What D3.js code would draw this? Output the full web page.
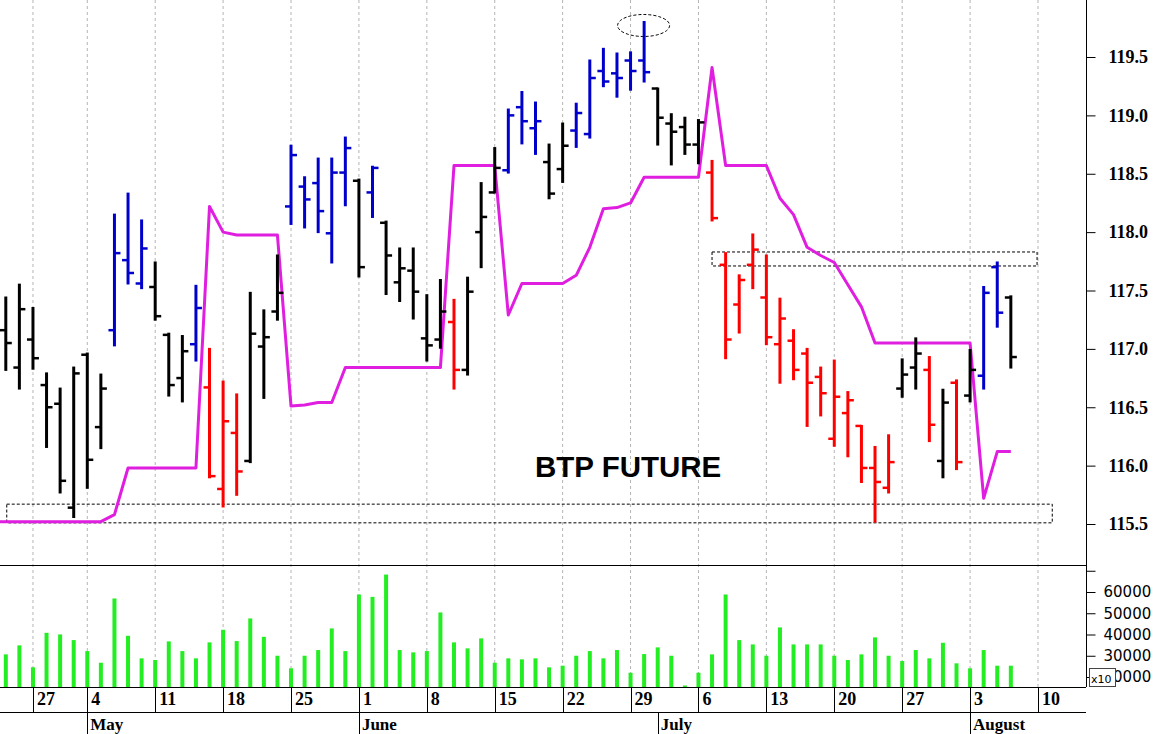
<!DOCTYPE html>
<html><head><meta charset="utf-8">
<script src="https://cdn.jsdelivr.net/npm/d3@7"></script>
<style>body{margin:0;background:#fff}svg{display:block}</style>
</head><body>
<svg id="c" width="1157" height="734"></svg>
<script>
// ---------- DATA ----------
const dates = [
 "2015-04-23","2015-04-24","2015-04-27","2015-04-28","2015-04-29","2015-04-30",
 "2015-05-04","2015-05-05","2015-05-06","2015-05-07","2015-05-08",
 "2015-05-11","2015-05-12","2015-05-13","2015-05-14","2015-05-15",
 "2015-05-18","2015-05-19","2015-05-20","2015-05-21","2015-05-22",
 "2015-05-25","2015-05-26","2015-05-27","2015-05-28","2015-05-29",
 "2015-06-01","2015-06-02","2015-06-03","2015-06-04","2015-06-05",
 "2015-06-08","2015-06-09","2015-06-10","2015-06-11","2015-06-12",
 "2015-06-15","2015-06-16","2015-06-17","2015-06-18","2015-06-19",
 "2015-06-22","2015-06-23","2015-06-24","2015-06-25","2015-06-26",
 "2015-06-29","2015-06-30","2015-07-01","2015-07-02","2015-07-03",
 "2015-07-06","2015-07-07","2015-07-08","2015-07-09","2015-07-10",
 "2015-07-13","2015-07-14","2015-07-15","2015-07-16","2015-07-17",
 "2015-07-20","2015-07-21","2015-07-22","2015-07-23","2015-07-24",
 "2015-07-27","2015-07-28","2015-07-29","2015-07-30","2015-07-31",
 "2015-08-03","2015-08-04","2015-08-05","2015-08-06","2015-08-07",
 "2015-08-10"
];
const open = [117.16,116.84,117.08,116.69,116.53,115.64,116.95,116.33,117.16,117.76,117.56,
 117.53,117.12,116.75,117.04,116.67,115.80,116.28,116.04,117.02,117.32,
 118.22,118.39,118.42,117.99,118.51,118.44,118.34,118.08,117.57,117.67,
 117.09,117.08,117.23,116.82,118.00,118.34,118.53,119.07,118.89,118.60,
 118.54,118.87,118.84,119.38,119.36,119.47,119.47,119.23,118.93,118.90,
 118.75,118.51,117.72,117.38,117.72,117.44,117.04,117.07,116.96,116.76,
 116.23,116.45,116.34,115.98,115.81,116.66,116.84,116.82,116.04,116.71,
 116.60,116.77,117.70,117.44];
const high = [117.44,117.55,117.35,116.79,116.66,116.84,116.96,116.78,118.15,118.33,118.10,
 117.74,117.13,117.11,117.54,117.00,116.72,116.61,117.48,117.33,117.80,
 118.74,118.47,118.63,118.63,118.81,118.45,118.56,118.09,117.86,117.86,
 117.46,117.59,117.42,117.61,118.42,118.72,119.05,119.20,119.11,118.75,
 118.93,119.10,119.47,119.57,119.53,119.54,119.80,119.23,119.01,118.98,
 118.96,118.61,117.82,117.63,117.98,117.80,117.43,117.16,117.00,116.84,
 116.90,116.63,116.34,116.16,116.26,116.91,117.09,116.93,116.65,116.73,
 116.99,117.53,117.74,117.45];
const low = [116.82,116.66,116.83,116.16,115.77,115.56,115.81,116.15,117.03,117.56,117.52,
 117.25,116.60,116.55,116.90,115.90,115.65,115.75,116.03,116.58,117.25,
 118.07,118.04,118.00,117.74,118.23,117.62,118.13,117.47,117.41,117.26,
 116.90,117.01,116.66,116.78,117.70,118.34,118.51,118.76,118.67,118.29,
 118.43,118.73,118.81,119.25,119.16,119.22,119.29,118.75,118.58,118.67,
 118.59,118.10,116.92,117.14,117.52,117.04,116.71,116.74,116.34,116.43,
 116.17,116.08,115.86,115.52,115.77,116.59,116.66,116.21,115.90,115.97,
 116.55,116.66,117.19,116.84];
const close = [117.05,117.34,116.92,116.50,115.87,116.79,116.05,116.66,117.82,117.65,117.86,
 117.28,116.69,116.98,117.35,115.91,116.38,115.95,117.13,117.10,117.48,
 118.66,118.28,118.18,118.51,118.72,117.70,118.55,117.80,117.69,117.49,
 117.03,117.32,116.82,117.49,118.13,118.55,119.00,118.95,118.95,118.33,
 118.74,119.02,119.32,119.29,119.32,119.38,119.37,118.98,118.86,118.75,
 118.94,118.12,117.08,117.59,117.85,117.10,117.26,116.82,116.71,116.62,
 116.59,116.56,115.98,115.86,116.03,116.78,116.96,116.35,116.54,116.03,
 116.82,117.48,117.31,116.93];
const signal = ["k","k","k","k","k","k","k","k","b","b","b",
 "k","k","k","b","r","r","r","k","k","k",
 "b","b","b","b","b","k","b","k","k","k",
 "k","k","r","k","k","k","b","b","b","k",
 "k","b","b","b","b","b","b","k","k","k",
 "k","r","r","r","r","r","r","r","r","r",
 "r","r","r","r","r","k","k","r","k","r",
 "k","b","b","k"];
const volume = [30650,34880,24550,40800,40040,37370,32200,26710,56950,39400,28780,
 27980,36760,32200,28780,36290,42210,36900,47560,38920,30010,
 24080,30010,32680,42860,32200,58830,57700,68220,32680,31590,
 32200,50380,36290,33470,38170,26710,28780,28310,28780,24550,
 25310,30010,32200,28780,32680,22020,30800,33940,30010,16000,
 22020,30650,58830,37370,35340,30010,43330,35340,35340,35340,
 30010,27980,30650,38640,30010,27510,32680,28780,36100,26430,
 24080,32680,25310,25310];
const stopLine = [115.52,115.52,115.52,115.52,115.52,115.52,115.52,115.52,115.58,115.98,115.98,
 115.98,115.98,115.98,115.98,118.22,118.00,117.975,117.975,117.975,117.975,
 116.51,116.52,116.54,116.54,116.84,116.84,116.84,116.84,116.84,116.84,
 116.84,116.84,118.57,118.57,118.57,118.57,117.29,117.56,117.56,117.56,
 117.56,117.63,117.87,118.20,118.21,118.25,118.47,118.47,118.47,118.47,
 118.47,119.41,118.57,118.57,118.57,118.57,118.29,118.15,117.87,117.80,
 117.74,117.55,117.36,117.05,117.05,117.05,117.05,117.05,117.05,117.05,
 117.05,115.72,116.12,116.12];
const priceTickLabels = [115.5,116.0,116.5,117.0,117.5,118.0,118.5,119.0,119.5];
const volumeTickLabels = [20000,30000,40000,50000,60000,70000];
const monthNames = ["January","February","March","April","May","June","July","August","September","October","November","December"];
const zoneBoxes = [ {i0:0.07, i1:77.05, p0:115.51, p1:115.67}, {i0:52.0, i1:75.93, p0:117.71, p1:117.83} ];
const peakMark = {i:46.96, p:119.77};
const title = "BTP FUTURE";

// ---------- LAYOUT ----------
const W = 1157, H = 734;
const R = 1086, priceBottom = 565, volBottom = 687, dayBottom = 712;
const svg = d3.select("#c");
svg.append("rect").attr("width", W).attr("height", H).attr("fill", "#fff");

const parse = d3.timeParse("%Y-%m-%d");
const dd = dates.map(parse);
const x = d3.scaleLinear().domain([0, dates.length - 1]).range([5.8, 1038]);
const y = d3.scaleLinear().domain([115.5, 119.5]).range([524, 57]);
const yv = d3.scaleLinear().domain([20000, 60000]).range([677, 592]);
const colors = {k: "#000000", b: "#0000cc", r: "#ff0000"};

const defs = svg.append("defs");
defs.append("clipPath").attr("id", "cp").append("rect").attr("x", 0).attr("y", 0).attr("width", R).attr("height", priceBottom);
defs.append("clipPath").attr("id", "cv").append("rect").attr("x", 0).attr("y", priceBottom).attr("width", R).attr("height", volBottom - priceBottom);

// week & month starts
const weekStarts = [], monthStarts = [];
dd.forEach((d, i) => {
  if (i > 0) {
    if (d.getDay() < dd[i - 1].getDay()) weekStarts.push(i);
    if (d.getMonth() !== dd[i - 1].getMonth()) monthStarts.push(i);
  }
});

// gridlines
svg.append("g").selectAll("line").data(weekStarts).join("line")
  .attr("x1", i => x(i)).attr("x2", i => x(i)).attr("y1", 0).attr("y2", volBottom)
  .attr("stroke", "#b4b4b4").attr("stroke-width", 1).attr("stroke-dasharray", "3,3");

// ---------- PRICE PANEL ----------
const gp = svg.append("g").attr("clip-path", "url(#cp)");
const idx = d3.range(open.length);

gp.append("g").selectAll("rect").data(zoneBoxes).join("rect")
  .attr("x", d => x(d.i0)).attr("width", d => x(d.i1) - x(d.i0))
  .attr("y", d => y(d.p1)).attr("height", d => y(d.p0) - y(d.p1))
  .attr("fill", "none").attr("stroke", "#000").attr("stroke-width", 1).attr("stroke-dasharray", "3,2");

const linePts = [[0, y(stopLine[0])]].concat(stopLine.map((v, i) => [x(i), y(v)]));
gp.append("path").attr("d", d3.line()(linePts))
  .attr("fill", "none").attr("stroke", "#e01ee0").attr("stroke-width", 3).attr("stroke-linejoin", "round");

const bars = gp.append("g").selectAll("g").data(idx).join("g")
  .attr("stroke", i => colors[signal[i]]);
bars.append("line").attr("x1", i => x(i)).attr("x2", i => x(i))
  .attr("y1", i => y(high[i]) - 1).attr("y2", i => y(low[i]) + 1).attr("stroke-width", 3);
bars.append("line").attr("x1", i => x(i) - 6).attr("x2", i => x(i))
  .attr("y1", i => y(open[i])).attr("y2", i => y(open[i])).attr("stroke-width", 2.5);
bars.append("line").attr("x1", i => x(i)).attr("x2", i => x(i) + 6)
  .attr("y1", i => y(close[i])).attr("y2", i => y(close[i])).attr("stroke-width", 2.5);

gp.append("ellipse").attr("cx", x(peakMark.i)).attr("cy", y(peakMark.p)).attr("rx", 26).attr("ry", 11)
  .attr("fill", "none").attr("stroke", "#000").attr("stroke-width", 1).attr("stroke-dasharray", "3,2");

svg.append("text").attr("x", 535).attr("y", 477).text(title)
  .attr("font-family", "'Liberation Sans', Arial, sans-serif").attr("font-weight", "bold").attr("font-size", 29.5).attr("fill", "#000");

// ---------- VOLUME PANEL ----------
svg.append("g").attr("clip-path", "url(#cv)").selectAll("rect").data(idx).join("rect")
  .attr("x", i => x(i) - 2).attr("width", 4)
  .attr("y", i => yv(volume[i])).attr("height", i => volBottom - yv(volume[i]))
  .attr("fill", "#22ee22");

// ---------- FRAME ----------
const frame = svg.append("g").attr("stroke", "#000").attr("stroke-width", 1);
frame.append("line").attr("x1", R + 0.5).attr("x2", R + 0.5).attr("y1", 0).attr("y2", volBottom);
frame.append("line").attr("x1", 0).attr("x2", R).attr("y1", priceBottom + 0.5).attr("y2", priceBottom + 0.5);
frame.append("line").attr("x1", 0).attr("x2", R).attr("y1", volBottom + 0.5).attr("y2", volBottom + 0.5);
frame.append("line").attr("x1", 0).attr("x2", R).attr("y1", dayBottom + 0.5).attr("y2", dayBottom + 0.5);

// ---------- PRICE AXIS ----------
const minorP = d3.range(1152, 1200).map(v => v / 10).filter(v => y(v) > 0 && y(v) < priceBottom);
const gpa = svg.append("g").attr("transform", `translate(${R + 0.5},0)`);
gpa.call(d3.axisRight(y).tickValues(minorP).tickSize(5).tickFormat(""));
gpa.call(d3.axisRight(y).tickValues(priceTickLabels).tickSize(9).tickPadding(13).tickFormat(d3.format(".1f")));
gpa.selectAll(".domain").remove();
gpa.selectAll("text").attr("font-family", "'Liberation Serif', 'Times New Roman', serif")
  .attr("font-weight", "bold").attr("font-size", 18).attr("fill", "#000");

// ---------- VOLUME AXIS ----------
const gva = svg.append("g").attr("transform", `translate(${R + 0.5},0)`);
gva.call(d3.axisRight(yv).tickValues(d3.range(25000, 75000, 10000)).tickSize(5).tickFormat(""));
gva.call(d3.axisRight(yv).tickValues(volumeTickLabels).tickSize(9).tickPadding(8)
  .tickFormat(d => d >= 70000 ? "" : d3.format("d")(d)));
gva.selectAll(".domain").remove();
gva.selectAll("text").attr("font-family", "'DejaVu Sans', Verdana, sans-serif").attr("font-size", 15).attr("fill", "#000");
// multiplier box (drawn over the first digit of the lowest label, as in the reference)
svg.append("rect").attr("x", 1089.5).attr("y", 668.5).attr("width", 26).attr("height", 18)
  .attr("fill", "#fff").attr("stroke", "#444").attr("stroke-width", 1);
svg.append("text").attr("x", 1091).attr("y", 683).text("x10")
  .attr("font-family", "'DejaVu Sans', sans-serif").attr("font-size", 11).attr("fill", "#000");

// ---------- DATE AXIS ----------
const gd = svg.append("g");
gd.selectAll("line.wk").data(weekStarts).join("line").attr("class", "wk")
  .attr("x1", i => Math.round(x(i)) + 0.5).attr("x2", i => Math.round(x(i)) + 0.5)
  .attr("y1", volBottom).attr("y2", dayBottom).attr("stroke", "#000");
gd.selectAll("text.wk").data(weekStarts).join("text").attr("class", "wk")
  .attr("x", i => x(i) + 4).attr("y", volBottom + 18).text(i => dd[i].getDate())
  .attr("font-family", "'Liberation Serif', 'Times New Roman', serif").attr("font-weight", "bold").attr("font-size", 18);
gd.selectAll("line.mo").data(monthStarts).join("line").attr("class", "mo")
  .attr("x1", i => Math.round(x(i)) + 0.5).attr("x2", i => Math.round(x(i)) + 0.5)
  .attr("y1", dayBottom).attr("y2", H).attr("stroke", "#000");
gd.selectAll("text.mo").data(monthStarts).join("text").attr("class", "mo")
  .attr("x", i => x(i) + 3).attr("y", dayBottom + 18).text(i => monthNames[dd[i].getMonth()])
  .attr("font-family", "'Liberation Serif', 'Times New Roman', serif").attr("font-weight", "bold").attr("font-size", 17);
</script>
</body></html>
